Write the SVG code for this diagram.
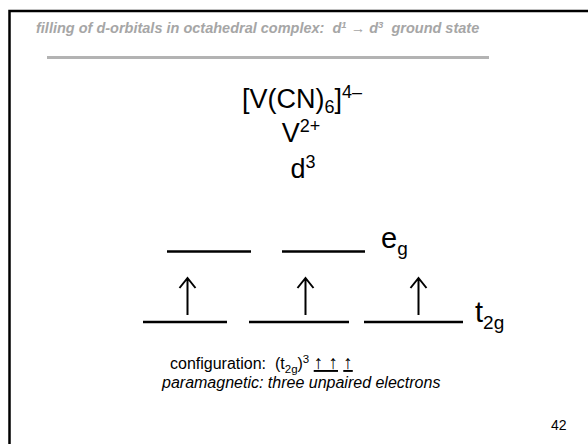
<svg xmlns="http://www.w3.org/2000/svg" width="588" height="444" viewBox="0 0 588 444">
<style>
text{white-space:pre}
.t{font-family:"Liberation Sans",Arial,sans-serif;fill:#000}
.title{font-family:"Liberation Sans",Arial,sans-serif;font-weight:bold;font-style:italic;fill:#a6a6a6;font-size:14.5px}
.lvl{stroke:#000;stroke-width:2.5;fill:none}
.arr{stroke:#000;stroke-width:2;fill:none}
</style>
<rect width="588" height="444" fill="#fff"/>
<g id="frame">
<path d="M9.5 444 V11 H588" fill="none" stroke="#000" stroke-width="2.5"/>
<line x1="47" y1="57.5" x2="489" y2="57.5" stroke="#b3b3b3" stroke-width="3"/>
</g>
<text id="title" class="title" x="36" y="33">filling of d-orbitals in octahedral complex:  d<tspan font-size="9.5" dy="-5">1</tspan><tspan dy="5" font-weight="normal"> → </tspan>d<tspan font-size="9.5" dy="-5">3</tspan><tspan dy="5">  ground state</tspan></text>
<g id="formula" class="t" font-size="27" text-anchor="middle">
<text x="302" y="107.5">[V(CN)<tspan font-size="18" dy="5">6</tspan><tspan dy="-5">]</tspan><tspan font-size="18" dy="-10">4–</tspan></text>
<text x="301" y="142">V<tspan font-size="18" dy="-10">2+</tspan></text>
<text x="303" y="178">d<tspan font-size="18" dy="-10">3</tspan></text>
</g>
<g id="eg">
<line class="lvl" x1="167" y1="251.5" x2="251" y2="251.5"/>
<line class="lvl" x1="282" y1="251.5" x2="365" y2="251.5"/>
<text class="t" x="381" y="248" font-size="29">e<tspan font-size="19" dy="7">g</tspan></text>
</g>
<g id="t2g">
<line class="lvl" x1="143" y1="322" x2="227" y2="322"/>
<line class="lvl" x1="249" y1="322" x2="349" y2="322"/>
<line class="lvl" x1="364" y1="322" x2="463" y2="322"/>
<text class="t" x="475" y="322" font-size="29">t<tspan font-size="19" dy="7">2g</tspan></text>
</g>
<g id="electrons">
<path class="arr" d="M187.5 315 V278 M179.5 288 L187.5 278 L195.5 288"/>
<path class="arr" d="M305.5 315 V278 M297.5 288 L305.5 278 L313.5 288"/>
<path class="arr" d="M418.5 315 V278 M410.5 288 L418.5 278 L426.5 288"/>
</g>
<g id="notes" class="t" font-size="16">
<text x="170" y="369">configuration:  (t<tspan font-size="11.5" dy="4">2g</tspan><tspan dy="-4">)</tspan><tspan font-size="11.5" dy="-6">3</tspan><tspan dy="6"> </tspan><tspan font-size="19" text-decoration="underline">↑ ↑</tspan><tspan font-size="19"> </tspan><tspan font-size="19" text-decoration="underline">↑</tspan></text>
<text x="162" y="388" font-style="italic">paramagnetic: three unpaired electrons</text>
</g>
<text id="page" class="t" x="551" y="430" font-size="14">42</text>
</svg>
